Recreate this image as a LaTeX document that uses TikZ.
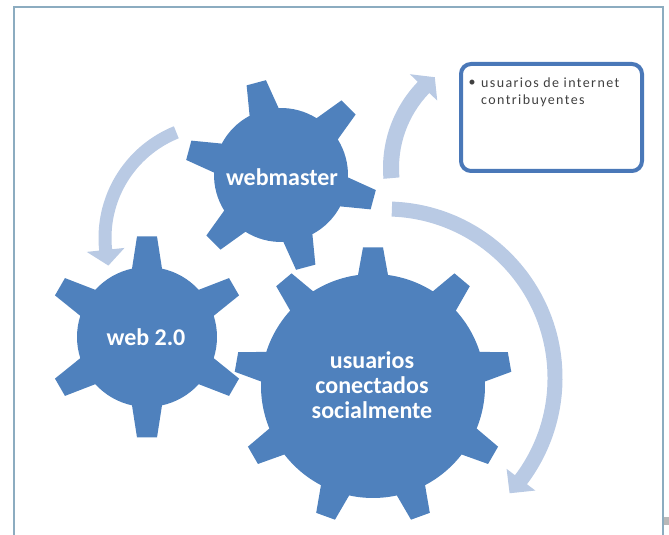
\documentclass[tikz,border=0pt]{standalone}
\usepackage{fontspec}
\setmainfont{Carlito}
\newfontfamily\boxfont{Carlito}[LetterSpace=10]
\definecolor{gearblue}{RGB}{79,129,189}
\definecolor{arrowblue}{RGB}{185,202,228}
\definecolor{boxblue}{RGB}{74,120,184}
\definecolor{framecol}{RGB}{140,172,192}
\definecolor{boxtext}{RGB}{64,64,64}

% gear outline: centre x, centre y, teeth, outer radius, inner radius, angle of first tooth
\newcommand\drawgear[6]{%
  \pgfmathsetmacro\gstep{360/#3}%
  \pgfmathsetmacro\gbt{asin(10/#4)}%
  \pgfmathsetmacro\gbb{asin(15/#5)}%
  \pgfmathtruncatemacro\glast{#3-1}%
  \fill[gearfill,shift={(#1,#2)}] ({#6-\gbb}:#5)
    \foreach \k in {0,...,\glast} {
      -- ({#6+\k*\gstep-\gbt}:#4) -- ({#6+\k*\gstep+\gbt}:#4)
      -- ({#6+\k*\gstep+\gbb}:#5)
      arc[start angle={#6+\k*\gstep+\gbb}, end angle={#6+(\k+1)*\gstep-\gbb}, radius=#5pt]
    } -- cycle;
}

% curved band arrow: centre name, mid radius, width, start angle, head-base angle, tip angle, head half width
\newcommand\drawcircarrow[7]{%
  \pgfmathsetmacro\aro{#2+#3/2}%
  \pgfmathsetmacro\ari{#2-#3/2}%
  \pgfmathsetmacro\aho{#2+#7}%
  \pgfmathsetmacro\ahi{#2-#7}%
  \fill[arrowfill,shift={(#1)}] (#4:\aro)
    arc[start angle=#4, end angle=#5, radius=\aro pt]
    -- (#5:\aho) -- (#6:#2) -- (#5:\ahi) -- (#5:\ari)
    arc[start angle=#5, end angle=#4, radius=\ari pt] -- cycle;
}

\begin{document}
\begin{tikzpicture}[x=1pt,y=1pt,
  gearfill/.style={fill=gearblue},
  arrowfill/.style={fill=arrowblue},
  geartext/.style={text=white, font=\bfseries\fontsize{24}{25}\selectfont, align=center, inner sep=0pt},
  boxline/.style={text=boxtext, font=\boxfont\fontsize{14}{17}\selectfont, inner sep=0pt}]
\useasboundingbox (0,0) rectangle (669,535);

% outer frame
\draw[framecol, line width=1.6pt] (14,-2) -- (14,528) -- (663,528) -- (663,-2);
\fill[black!28] (664,10) rectangle (669,18);

% centres of the curved arrows
\coordinate (arcA) at (219,297);
\coordinate (arcB) at (507,367);
\coordinate (arcC) at (386,157);

\drawcircarrow{arcA}{114}{13}{112}{186}{194}{19}
\drawcircarrow{arcB}{116}{16}{185}{136}{128.5}{19}
\drawcircarrow{arcC}{169}{15}{88}{-37}{-43}{18}

% gears
\drawgear{281}{360}{6}{96}{67}{45}
\drawgear{147}{198}{6}{101}{70}{30}
\drawgear{373}{149}{9}{139}{112}{90}

\node[geartext] (wm) at (282,358) {webmaster};
\node[geartext] (web) at (146,198) {web 2.0};
\node[geartext] (users) at (372,150) {usuarios\\conectados\\socialmente};

% text box
\node[draw=boxblue, line width=4pt, rounded corners=10pt, fill=white,
      minimum width=181pt, minimum height=107pt] (box) at (551.5,417.5) {};
\node[boxline] (bullet) at (472,452) {•};
\node[boxline, anchor=west] (line1) at (481,452) {usuarios de internet};
\node[boxline, anchor=west] (line2) at (481,434) {contribuyentes};
\end{tikzpicture}
\end{document}
